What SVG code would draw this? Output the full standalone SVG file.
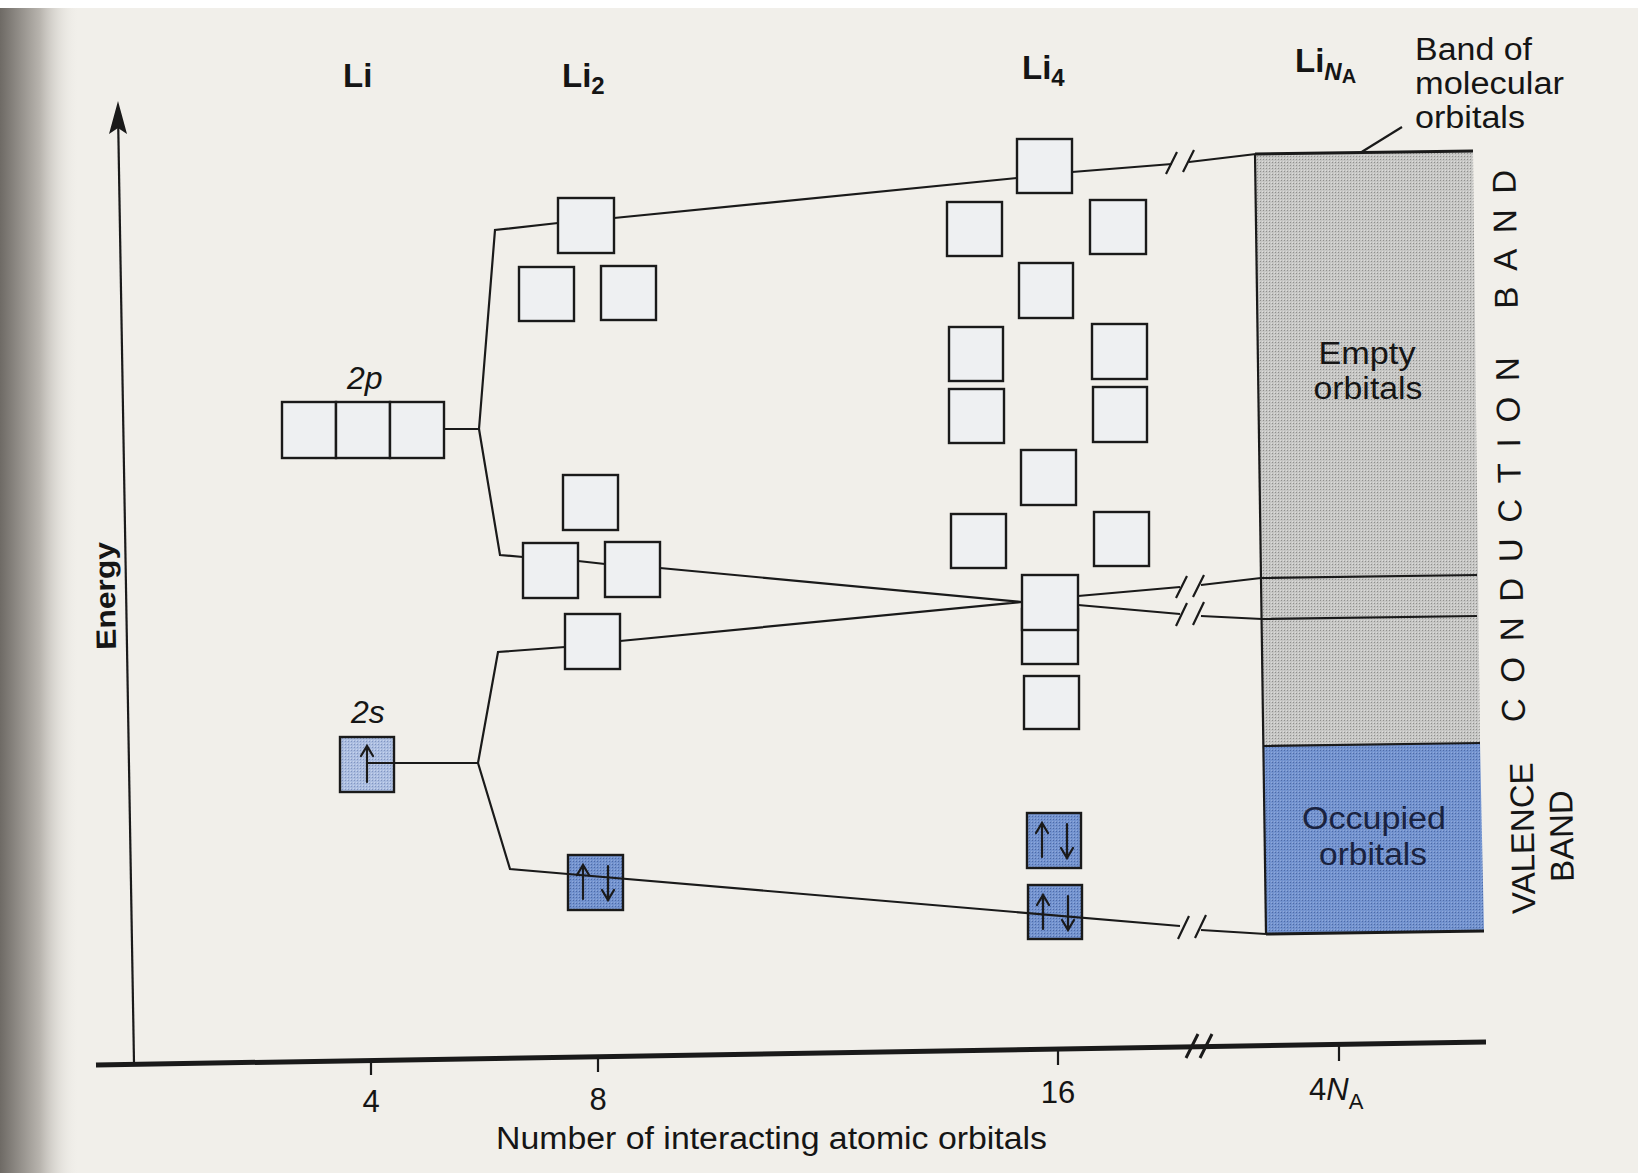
<svg xmlns="http://www.w3.org/2000/svg" width="1638" height="1173" viewBox="0 0 1638 1173">
<defs>
<style>
text{font-family:"Liberation Sans",Arial,sans-serif;fill:#151515}
.lbl{font-size:33px;font-weight:bold}
.sub{font-size:24px;font-weight:bold}
.t34{font-size:31px}
.orb{font-size:32px;font-style:italic}
.box{fill:#eef0f2;stroke:#1a1a1a;stroke-width:2.4}
.occ{fill:url(#bluePat);stroke:#1a1a1a;stroke-width:2.4}
.half{fill:url(#lightPat);stroke:#1a1a1a;stroke-width:2.4}
.ln{fill:none;stroke:#1a1a1a;stroke-width:2.2;stroke-linejoin:miter}
.brk{fill:none;stroke:#1a1a1a;stroke-width:2.2}
.arr{fill:none;stroke:#1a1a1a;stroke-width:2.2;stroke-linecap:round}
</style>
<linearGradient id="spine" x1="0" y1="0" x2="1" y2="0">
<stop offset="0" stop-color="#6e6a65"/>
<stop offset="0.5" stop-color="#b8b4ae"/>
<stop offset="1" stop-color="#f1efea" stop-opacity="0"/>
</linearGradient>
<pattern id="grayPat" width="3" height="3" patternUnits="userSpaceOnUse">
<rect width="3" height="3" fill="#c6c6c4"/>
<rect width="1" height="1" fill="#8f8f8d"/>
<rect x="2" y="2" width="1" height="1" fill="#dcdcda"/>
</pattern>
<pattern id="bluePat" width="3" height="3" patternUnits="userSpaceOnUse">
<rect width="3" height="3" fill="#7393cf"/>
<rect width="1" height="1" fill="#4e6aa6"/>
<rect x="2" y="2" width="1" height="1" fill="#90a9da"/>
</pattern>
<pattern id="lightPat" width="3" height="3" patternUnits="userSpaceOnUse">
<rect width="3" height="3" fill="#abbde0"/>
<rect width="1" height="1" fill="#8295c0"/>
<rect x="2" y="2" width="1" height="1" fill="#c8d4ec"/>
</pattern>
<g id="ud">
<path class="arr" d="M15,44 V11 M9,20 L15,10 L21,20"/>
<path class="arr" d="M40,11 V44 M34,35 L40,45 L46,35"/>
</g>
</defs>

<rect width="1638" height="1173" fill="#f1efea"/>
<rect width="1638" height="8" fill="#ffffff"/>
<rect x="0" y="8" width="80" height="1165" fill="url(#spine)"/>

<!-- axes -->
<g id="axes">
<line class="ln" x1="118" y1="112" x2="134" y2="1063"/>
<path d="M118,101 L127,134 L118,128 L109,134 Z" fill="#1a1a1a"/>
<line x1="96" y1="1065" x2="1486" y2="1042" stroke="#1a1a1a" stroke-width="5"/>
<path d="M1186,1058 L1198,1034 M1200,1058 L1212,1034" stroke="#1a1a1a" stroke-width="3" fill="none"/>
<path class="ln" d="M371,1060 V1075 M598,1057 V1072 M1058,1049 V1065 M1339,1045 V1061"/>
<text x="105" y="596" font-size="28" font-weight="bold" text-anchor="middle" transform="rotate(-91 105 596)" dy="10" textLength="108" lengthAdjust="spacingAndGlyphs">Energy</text>
<text x="371" y="1112" font-size="31" text-anchor="middle">4</text>
<text x="598" y="1110" font-size="31" text-anchor="middle">8</text>
<text x="1058" y="1103" font-size="31" text-anchor="middle">16</text>
<text x="1309" y="1100" font-size="31">4<tspan font-style="italic">N</tspan><tspan font-size="22" dy="9">A</tspan></text>
<text x="496" y="1149" font-size="31" textLength="551" lengthAdjust="spacingAndGlyphs">Number of interacting atomic orbitals</text>
</g>

<!-- column labels -->
<g id="labels">
<text class="lbl" x="343" y="87">Li</text>
<text class="lbl" x="562" y="87">Li<tspan class="sub" dy="7">2</tspan></text>
<text class="lbl" x="1022" y="79">Li<tspan class="sub" dy="7">4</tspan></text>
<text class="lbl" x="1295" y="72">Li<tspan class="sub" font-style="italic" dy="8">N</tspan><tspan font-size="20" font-weight="bold" dy="3">A</tspan></text>
<text class="t34" x="1415" y="60" textLength="117" lengthAdjust="spacingAndGlyphs">Band of</text>
<text class="t34" x="1415" y="94" textLength="149" lengthAdjust="spacingAndGlyphs">molecular</text>
<text class="t34" x="1415" y="128" textLength="110" lengthAdjust="spacingAndGlyphs">orbitals</text>
<line class="ln" x1="1402" y1="127" x2="1360" y2="153"/>
</g>

<!-- Li atomic orbitals -->
<g id="li-2p">
<rect class="box" x="282" y="402" width="54" height="56"/>
<rect class="box" x="336" y="402" width="54" height="56"/>
<rect class="box" x="390" y="402" width="54" height="56"/>
<text class="orb" x="347" y="389">2p</text>
</g>
<g id="li-2s">
<rect class="half" x="340" y="737" width="54" height="55"/>
<path class="arr" d="M367,782 V747 M361,756 L367,746 L373,756"/>
<text class="orb" x="351" y="723">2s</text>
</g>

<!-- Li2 molecular orbitals -->
<g id="li2-mo">
<rect class="box" x="558" y="198" width="56" height="55"/>
<rect class="box" x="519" y="267" width="55" height="54"/>
<rect class="box" x="601" y="266" width="55" height="54"/>
<rect class="box" x="563" y="475" width="55" height="55"/>
<rect class="box" x="523" y="543" width="55" height="55"/>
<rect class="box" x="605" y="542" width="55" height="55"/>
<rect class="box" x="565" y="614" width="55" height="55"/>
</g>
<g id="li2-occ">
<rect class="occ" x="568" y="855" width="55" height="55"/>
<use href="#ud" x="568" y="855"/>
</g>

<!-- Li4 molecular orbitals -->
<g id="li4-mo">
<rect class="box" x="1017" y="139" width="55" height="54"/>
<rect class="box" x="947" y="202" width="55" height="54"/>
<rect class="box" x="1090" y="200" width="56" height="54"/>
<rect class="box" x="1019" y="263" width="54" height="55"/>
<rect class="box" x="949" y="327" width="54" height="54"/>
<rect class="box" x="1092" y="324" width="55" height="55"/>
<rect class="box" x="949" y="389" width="55" height="54"/>
<rect class="box" x="1093" y="387" width="54" height="55"/>
<rect class="box" x="1021" y="450" width="55" height="55"/>
<rect class="box" x="951" y="514" width="55" height="54"/>
<rect class="box" x="1094" y="512" width="55" height="54"/>
<rect class="box" x="1022" y="609" width="56" height="55"/>
<rect class="box" x="1022" y="575" width="56" height="55"/>
<rect class="box" x="1024" y="676" width="55" height="53"/>
</g>
<g id="li4-occ">
<rect class="occ" x="1027" y="813" width="54" height="55"/>
<use href="#ud" x="1027" y="813"/>
<rect class="occ" x="1028" y="885" width="54" height="54"/>
<use href="#ud" x="1028" y="885"/>
</g>

<!-- LiNA band -->
<g id="band">
<polygon points="1255,154 1473,151 1480,743 1264,746" fill="url(#grayPat)"/>
<polygon points="1264,746 1480,743 1484,931 1266,934" fill="url(#bluePat)"/>
<path class="ln" d="M1255,154 L1266,934"/>
<path d="M1255,154 L1473,151" stroke="#1a1a1a" stroke-width="3"/>
<path class="ln" d="M1261,578 L1477,575 M1262,619 L1477,616 M1264,746 L1480,743"/>
<path d="M1266,934 L1484,931" stroke="#1a1a1a" stroke-width="3"/>
<text class="t34" x="1367" y="364" text-anchor="middle" textLength="97" lengthAdjust="spacingAndGlyphs">Empty</text>
<text class="t34" x="1368" y="399" text-anchor="middle" textLength="109" lengthAdjust="spacingAndGlyphs">orbitals</text>
<text class="t34" x="1374" y="829" text-anchor="middle" textLength="144" lengthAdjust="spacingAndGlyphs" style="fill:#1a2340">Occupied</text>
<text class="t34" x="1373" y="865" text-anchor="middle" textLength="108" lengthAdjust="spacingAndGlyphs" style="fill:#1a2340">orbitals</text>
</g>

<!-- side labels -->
<g id="side">
<text font-size="33" x="1525" y="722" transform="rotate(-91 1525 722)" letter-spacing="15.7">CONDUCTION<tspan dx="8"> </tspan>BAND</text>
<text font-size="33" x="1534" y="838" text-anchor="middle" transform="rotate(-91 1534 838)">VALENCE</text>
<text font-size="33" x="1573" y="836" text-anchor="middle" transform="rotate(-91 1573 836)">BAND</text>
</g>

<!-- connectors -->
<g id="connectors">
<path class="ln" d="M444,429 L479,429 L495,230 L558,223"/>
<path class="ln" d="M479,429 L500,555 L523,557"/>
<path class="ln" d="M578,561 L605,564"/>
<path class="ln" d="M614,218 L1017,178"/>
<path class="ln" d="M1072,172 L1172,164 M1189,162 L1256,154"/>
<path class="brk" d="M1166,174 L1177,152 M1183,172 L1194,150"/>
<path class="ln" d="M660,568 L1022,602 L620,641"/>
<path class="ln" d="M1078,596 L1180,587 M1201,585 L1261,578"/>
<path class="brk" d="M1176,598 L1187,576 M1193,597 L1204,575"/>
<path class="ln" d="M1078,605 L1180,614 M1201,616 L1262,619"/>
<path class="brk" d="M1176,626 L1187,603 M1193,625 L1204,602"/>
<path class="ln" d="M367,763 L478,763 L498,652 L565,647"/>
<path class="ln" d="M478,763 L510,869 L568,874 L1180,926 M1201,930 L1266,934"/>
<path class="brk" d="M1178,939 L1189,916 M1195,938 L1206,915"/>
</g>
</svg>
